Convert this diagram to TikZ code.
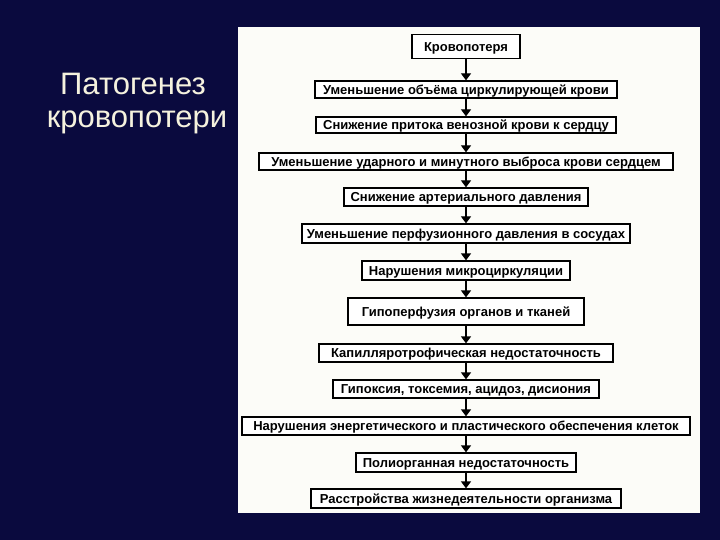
\documentclass[tikz,border=0pt]{standalone}
\usepackage{fontspec}
\setmainfont{Liberation Sans}
\usetikzlibrary{arrows.meta}
\definecolor{slidebg}{RGB}{10,10,62}
\definecolor{titlecol}{RGB}{245,242,222}
\definecolor{panelcol}{RGB}{252,252,248}
\tikzset{
  blk/.style={draw=black, line width=1.3pt, fill=white, minimum height=18pt, inner sep=0pt,
    text height=9.2pt, text depth=0pt, font=\fontsize{13}{13}\selectfont\bfseries},
  arr/.style={line width=1.3pt, -{Triangle[width=10pt,length=7pt]}},
  ttl/.style={text=titlecol, anchor=base, inner sep=0pt, font=\fontsize{31}{34}\selectfont}
}
\begin{document}
\begin{tikzpicture}[x=1pt,y=-1pt]
        %% slide
        \fill[slidebg] (0,0) rectangle (720,540);
        \useasboundingbox (0,0) rectangle (720,540);
        %% title
        \node[ttl] (title1) at (133,95) {Патогенез};
        \node[ttl] (title2) at (137,128) {кровопотери};
        %% panel
        \fill[panelcol] (238,27) rectangle (700,513);
        %% boxes
        \node[blk, minimum width=108pt, minimum height=24pt] (loss) at (466,46.5) {Кровопотеря};
        \node[blk, minimum width=302pt, minimum height=17pt] (volume) at (466,89.5) {Уменьшение объёма циркулирующей крови};
        \node[blk, minimum width=300pt, minimum height=16pt] (venous) at (466,125) {Снижение притока венозной крови к сердцу};
        \node[blk, minimum width=414pt, minimum height=17pt] (output) at (466,161.5) {Уменьшение ударного и минутного выброса крови сердцем};
        \node[blk, minimum width=244pt] (pressure) at (466,197) {Снижение артериального давления};
        \node[blk, minimum width=328pt, minimum height=19pt] (perfusion) at (466,233.5) {Уменьшение перфузионного давления в сосудах};
        \node[blk, minimum width=208pt, minimum height=19pt] (micro) at (466,270.5) {Нарушения микроциркуляции};
        \node[blk, minimum width=236pt, minimum height=27pt] (hypoperf) at (466,311.5) {Гипоперфузия органов и тканей};
        \node[blk, minimum width=294pt] (captroph) at (466,353) {Капилляротрофическая недостаточность};
        \node[blk, minimum width=266pt] (hypoxia) at (466,389) {Гипоксия, токсемия, ацидоз, дисиония};
        \node[blk, minimum width=448pt] (energy) at (466,426) {Нарушения энергетического и пластического обеспечения клеток};
        \node[blk, minimum width=220pt, minimum height=19pt] (multiorg) at (466,462.5) {Полиорганная недостаточность};
        \node[blk, minimum width=310pt, minimum height=19pt] (vital) at (466,498.5) {Расстройства жизнедеятельности организма};
        %% arrows
        \foreach \a/\b in {loss/volume, volume/venous, venous/output, output/pressure, pressure/perfusion, perfusion/micro, micro/hypoperf, hypoperf/captroph, captroph/hypoxia, hypoxia/energy, energy/multiorg, multiorg/vital}
          \draw[arr] (\a) -- (\b);
\end{tikzpicture}
\end{document}
